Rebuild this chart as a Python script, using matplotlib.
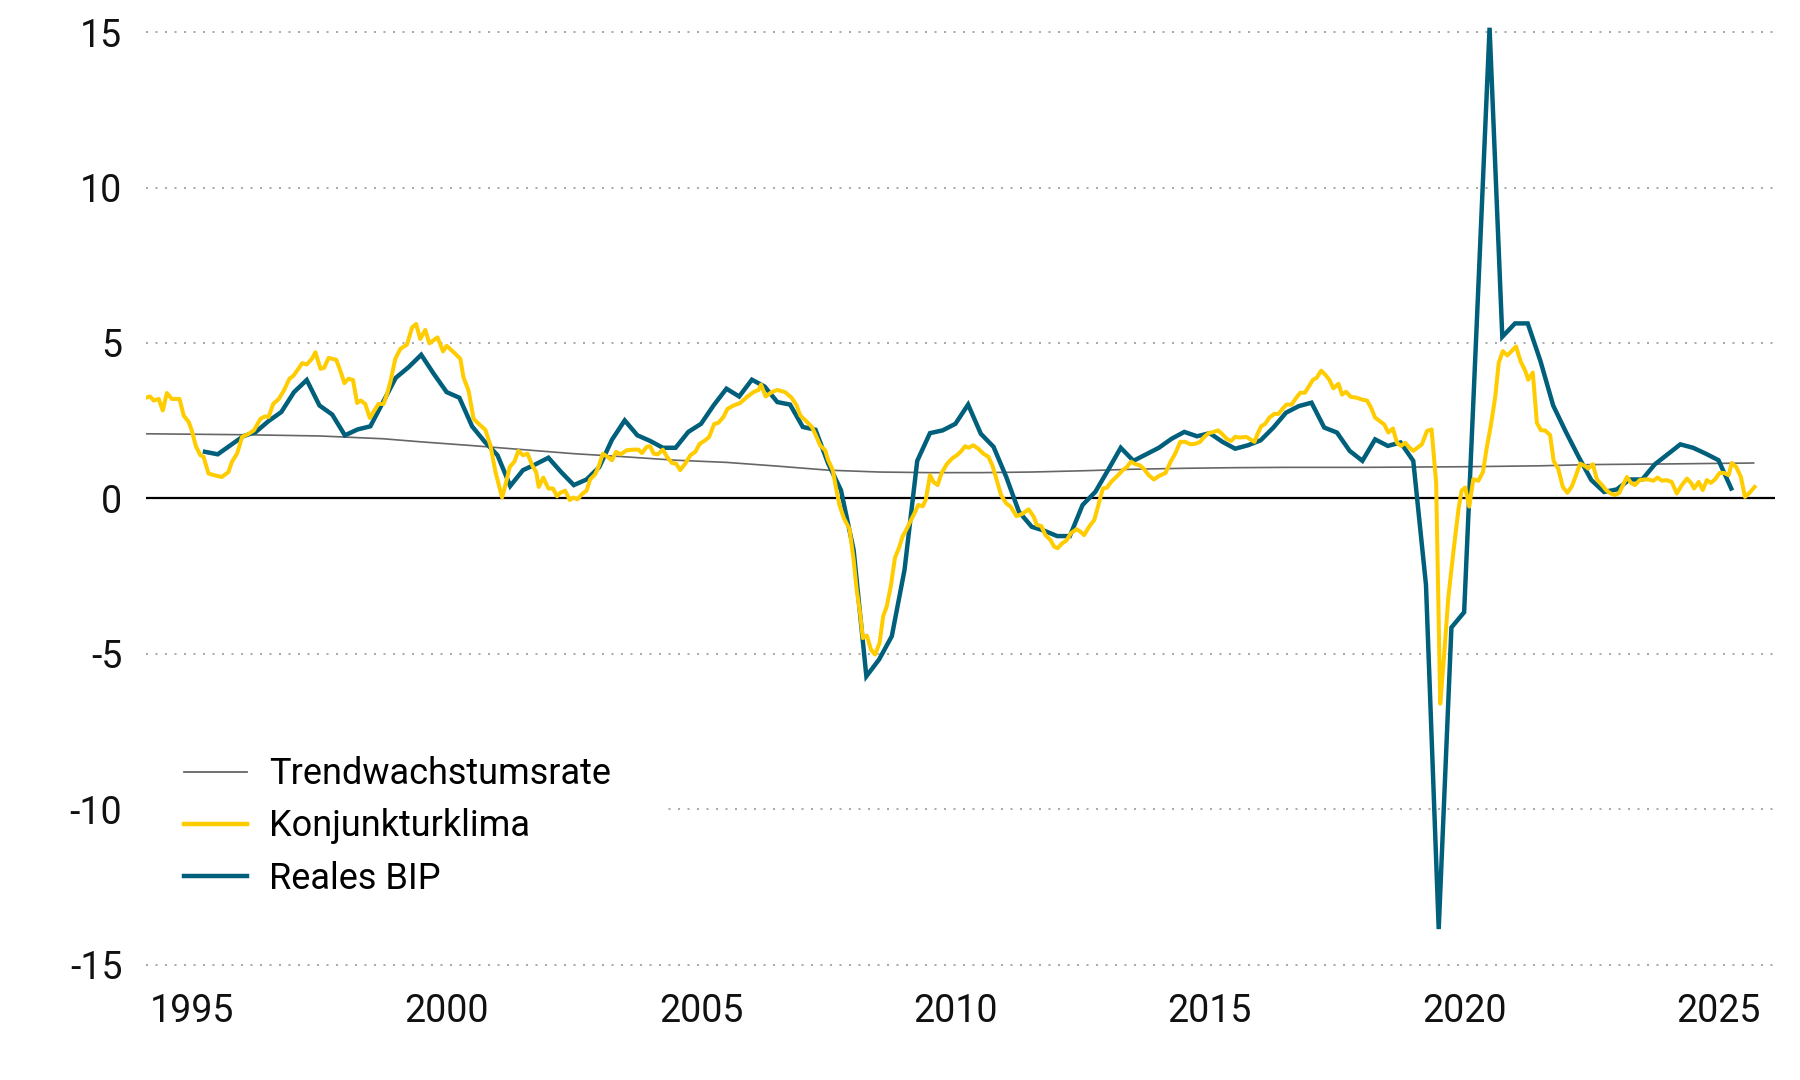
import numpy as np
import matplotlib
matplotlib.use("Agg")
import matplotlib.pyplot as plt
from matplotlib.lines import Line2D

plt.rcParams['font.family'] = ['Roboto', 'DejaVu Sans']

# ---------------------------- Daten ---------------------------- #

# Trendwachstumsrate (glatte Linie)
trend_jahr = [1994.09, 1996.0, 1997.5, 1998.75, 1999.5, 2000.5, 2001.5, 2002.5, 2003.5,
              2004.5, 2005.5, 2006.5, 2007.5, 2008.5, 2009.5, 2010.5, 2011.5, 2012.5,
              2013.5, 2014.5, 2015.5, 2016.5, 2018.0, 2020.0, 2021.5, 2022.5, 2024.0, 2025.69]
trend_wert = [2.08, 2.05, 2.01, 1.92, 1.82, 1.70, 1.57, 1.44, 1.34,
              1.23, 1.16, 1.04, 0.91, 0.85, 0.83, 0.83, 0.85, 0.89,
              0.94, 0.97, 0.99, 1.00, 1.00, 1.02, 1.05, 1.09, 1.11, 1.14]

# Reales BIP, quartalsweise ab 1995 Q2
bip_start = 1995.25
bip_wert = [1.50, 1.42, 1.71, 2.00, 2.14, 2.49, 2.78, 3.42, 3.81, 2.99, 2.70, 2.03,
            2.22, 2.32, 3.10, 3.88, 4.22, 4.62, 4.00, 3.42, 3.24, 2.32, 1.82, 1.39,
            0.40, 0.91, 1.10, 1.31, 0.85, 0.43, 0.61, 1.01, 1.89, 2.51, 2.03, 1.85,
            1.63, 1.63, 2.14, 2.40, 3.00, 3.53, 3.28, 3.82, 3.60, 3.10, 3.02, 2.30,
            2.21, 1.12, 0.27, -1.66, -5.72, -5.18, -4.43, -2.30, 1.21, 2.10, 2.19, 2.40,
            3.02, 2.08, 1.66, 0.69, -0.43, -0.91, -1.04, -1.21, -1.21, -0.21, 0.21, 0.91,
            1.63, 1.21, 1.42, 1.63, 1.92, 2.14, 2.00, 2.10, 1.82, 1.60, 1.71, 1.87,
            2.28, 2.76, 2.97, 3.08, 2.28, 2.12, 1.53, 1.21, 1.90, 1.69, 1.80, 1.21,
            -2.78, -13.85, -4.15, -3.66, 5.70, 15.14, 5.20, 5.63, 5.63, 4.42, 2.99, 2.14,
            1.34, 0.59, 0.21, 0.29, 0.61, 0.61, 1.10, 1.42, 1.74, 1.63, 1.44, 1.23,
            0.32]

# Konjunkturklima (monatlich)
klima_jahr = [
    1994.09, 1994.17, 1994.24, 1994.34, 1994.42, 1994.50, 1994.60, 1994.75, 1994.83, 1994.93,
    1994.99, 1995.07, 1995.16, 1995.22, 1995.32, 1995.45, 1995.58, 1995.71, 1995.78, 1995.88,
    1995.98, 1996.11, 1996.21, 1996.34, 1996.43, 1996.50, 1996.59, 1996.70, 1996.80, 1996.91,
    1996.99, 1997.06, 1997.16, 1997.25, 1997.35, 1997.42, 1997.52, 1997.59, 1997.68, 1997.83,
    1997.91, 1997.99, 1998.07, 1998.16, 1998.24, 1998.31, 1998.40, 1998.49, 1998.56, 1998.66,
    1998.76, 1998.83, 1998.90, 1998.99, 1999.09, 1999.22, 1999.32, 1999.40, 1999.48, 1999.58,
    1999.66, 1999.82, 1999.93, 2000.00, 2000.14, 2000.27, 2000.33, 2000.43, 2000.53, 2000.63,
    2000.76, 2000.86, 2000.96, 2001.09, 2001.17, 2001.24, 2001.33, 2001.41, 2001.50, 2001.59,
    2001.68, 2001.76, 2001.81, 2001.90, 2002.00, 2002.09, 2002.17, 2002.23, 2002.33, 2002.42,
    2002.49, 2002.57, 2002.66, 2002.75, 2002.82, 2002.92, 2002.99, 2003.07, 2003.16, 2003.25,
    2003.33, 2003.42, 2003.54, 2003.67, 2003.77, 2003.84, 2003.93, 2004.00, 2004.07, 2004.15,
    2004.25, 2004.33, 2004.43, 2004.51, 2004.59, 2004.69, 2004.79, 2004.89, 2004.97, 2005.08,
    2005.16, 2005.26, 2005.34, 2005.44, 2005.52, 2005.64, 2005.77, 2005.90, 2006.03, 2006.13,
    2006.18, 2006.27, 2006.39, 2006.50, 2006.65, 2006.78, 2006.88, 2006.95, 2007.04, 2007.18,
    2007.27, 2007.34, 2007.44, 2007.50, 2007.59, 2007.65, 2007.72, 2007.81, 2007.92, 2008.00,
    2008.06, 2008.13, 2008.18, 2008.26, 2008.34, 2008.42, 2008.51, 2008.58, 2008.65, 2008.73,
    2008.81, 2008.90, 2008.96, 2009.04, 2009.12, 2009.21, 2009.27, 2009.36, 2009.42, 2009.50,
    2009.57, 2009.65, 2009.73, 2009.83, 2009.93, 2010.03, 2010.12, 2010.19, 2010.26, 2010.35,
    2010.45, 2010.55, 2010.65, 2010.73, 2010.81, 2010.90, 2011.00, 2011.09, 2011.20, 2011.31,
    2011.44, 2011.54, 2011.60, 2011.69, 2011.77, 2011.87, 2011.94, 2012.01, 2012.10, 2012.18,
    2012.27, 2012.38, 2012.46, 2012.53, 2012.62, 2012.73, 2012.82, 2012.90, 2012.98, 2013.06,
    2013.18, 2013.29, 2013.37, 2013.45, 2013.54, 2013.62, 2013.70, 2013.80, 2013.90, 2014.00,
    2014.13, 2014.23, 2014.32, 2014.42, 2014.52, 2014.62, 2014.72, 2014.81, 2014.89, 2014.98,
    2015.08, 2015.16, 2015.24, 2015.33, 2015.42, 2015.50, 2015.60, 2015.72, 2015.81, 2015.88,
    2015.94, 2016.01, 2016.09, 2016.17, 2016.27, 2016.35, 2016.44, 2016.51, 2016.61, 2016.70,
    2016.78, 2016.87, 2016.96, 2017.03, 2017.10, 2017.19, 2017.27, 2017.35, 2017.43, 2017.53,
    2017.60, 2017.68, 2017.77, 2017.89, 2017.99, 2018.09, 2018.17, 2018.25, 2018.34, 2018.43,
    2018.51, 2018.60, 2018.68, 2018.76, 2018.84, 2018.93, 2019.00, 2019.08, 2019.17, 2019.27,
    2019.36, 2019.45, 2019.53, 2019.59, 2019.69, 2019.79, 2019.89, 2019.95, 2020.02, 2020.10,
    2020.18, 2020.28, 2020.37, 2020.45, 2020.52, 2020.61, 2020.68, 2020.76, 2020.85, 2020.94,
    2021.02, 2021.11, 2021.20, 2021.26, 2021.35, 2021.43, 2021.51, 2021.59, 2021.69, 2021.76,
    2021.85, 2021.94, 2022.03, 2022.12, 2022.20, 2022.28, 2022.38, 2022.44, 2022.53, 2022.61,
    2022.71, 2022.79, 2022.88, 2022.97, 2023.05, 2023.12, 2023.20, 2023.28, 2023.36, 2023.45,
    2023.54, 2023.62, 2023.72, 2023.80, 2023.89, 2023.98, 2024.08, 2024.18, 2024.28, 2024.38,
    2024.46, 2024.52, 2024.61, 2024.69, 2024.77, 2024.85, 2024.93, 2025.02, 2025.11, 2025.20,
    2025.26, 2025.35, 2025.44, 2025.52, 2025.61, 2025.71]
klima_wert = [
    3.24, 3.28, 3.15, 3.20, 2.83, 3.39, 3.20, 3.20, 2.67, 2.46,
    2.19, 1.68, 1.39, 1.34, 0.80, 0.74, 0.69, 0.85, 1.18, 1.44,
    1.98, 2.08, 2.19, 2.56, 2.64, 2.62, 3.04, 3.20, 3.47, 3.85,
    3.95, 4.11, 4.35, 4.31, 4.49, 4.70, 4.17, 4.20, 4.52, 4.46,
    4.11, 3.71, 3.85, 3.81, 3.07, 3.15, 3.04, 2.59, 2.78, 3.04,
    3.04, 3.37, 3.79, 4.49, 4.81, 4.95, 5.50, 5.61, 5.13, 5.42,
    4.99, 5.18, 4.73, 4.91, 4.70, 4.49, 3.90, 3.47, 2.56, 2.40,
    2.21, 1.71, 0.85, 0.03, 0.53, 1.01, 1.18, 1.53, 1.39, 1.44,
    1.07, 0.85, 0.37, 0.67, 0.32, 0.32, 0.07, 0.18, 0.25, -0.05,
    0.03, -0.03, 0.14, 0.25, 0.61, 0.78, 1.04, 1.44, 1.34, 1.23,
    1.50, 1.42, 1.55, 1.57, 1.57, 1.46, 1.66, 1.68, 1.44, 1.42,
    1.57, 1.34, 1.14, 1.12, 0.91, 1.12, 1.39, 1.50, 1.75, 1.87,
    1.98, 2.40, 2.43, 2.62, 2.88, 2.99, 3.07, 3.26, 3.42, 3.49,
    3.66, 3.28, 3.42, 3.49, 3.42, 3.24, 2.99, 2.67, 2.53, 2.30,
    1.98, 1.71, 1.55, 1.23, 0.91, 0.37, -0.21, -0.64, -0.99, -1.98,
    -2.94, -3.74, -4.49, -4.41, -4.86, -5.02, -4.65, -3.79, -3.47, -2.83,
    -1.92, -1.55, -1.23, -0.99, -0.72, -0.43, -0.21, -0.25, -0.03, 0.75,
    0.53, 0.43, 0.82, 1.10, 1.28, 1.39, 1.53, 1.68, 1.63, 1.71,
    1.60, 1.44, 1.34, 1.05, 0.60, 0.10, -0.16, -0.27, -0.57, -0.50,
    -0.35, -0.59, -0.85, -0.89, -1.18, -1.34, -1.55, -1.60, -1.44, -1.36,
    -1.12, -0.99, -1.07, -1.18, -0.93, -0.69, -0.16, 0.32, 0.35, 0.53,
    0.72, 0.91, 1.01, 1.18, 1.10, 1.07, 0.96, 0.75, 0.61, 0.72,
    0.82, 1.18, 1.44, 1.82, 1.82, 1.74, 1.76, 1.82, 1.98, 2.10,
    2.14, 2.19, 2.08, 1.92, 1.85, 1.98, 1.96, 1.98, 1.89, 1.82,
    2.08, 2.32, 2.40, 2.60, 2.72, 2.72, 2.90, 3.02, 3.02, 3.24,
    3.40, 3.40, 3.64, 3.82, 3.88, 4.11, 3.98, 3.82, 3.54, 3.69,
    3.34, 3.43, 3.27, 3.24, 3.18, 3.15, 2.92, 2.60, 2.49, 2.38,
    2.12, 2.25, 1.79, 1.69, 1.79, 1.63, 1.53, 1.63, 1.74, 2.17,
    2.22, 0.50, -6.60, -5.40, -3.17, -1.70, -0.33, 0.25, 0.35, -0.26,
    0.62, 0.57, 0.85, 1.69, 2.30, 3.25, 4.36, 4.74, 4.60, 4.75,
    4.89, 4.41, 4.11, 3.82, 4.05, 2.43, 2.19, 2.19, 2.04, 1.20,
    0.95, 0.37, 0.18, 0.40, 0.75, 1.12, 1.04, 0.96, 1.10, 0.61,
    0.43, 0.27, 0.16, 0.11, 0.18, 0.43, 0.69, 0.50, 0.43, 0.59,
    0.61, 0.61, 0.57, 0.67, 0.57, 0.59, 0.53, 0.16, 0.43, 0.64,
    0.50, 0.32, 0.53, 0.27, 0.59, 0.50, 0.61, 0.82, 0.82, 0.75,
    1.14, 1.01, 0.69, 0.05, 0.18, 0.37]

jahre_ticks = [1995, 2000, 2005, 2010, 2015, 2020, 2025]
werte_ticks = [15, 10, 5, 0, -5, -10, -15]

# ---------------------------- Farben ---------------------------- #
c_trend = "#666666"
c_klima = "#FFCC00"
c_bip = "#005F7B"

# ---------------------------- Grafik ---------------------------- #
fig = plt.figure(figsize=(18, 10.8), dpi=100)
ax = fig.add_axes([0.0811, 0.1009, 0.905, 0.8809])

bip_jahr = bip_start + 0.25 * np.arange(len(bip_wert))

for v in werte_ticks:
    if v != 0:
        ax.axhline(v, color="#9a9a9a", lw=1.2, ls=(0, (1.2, 4.5)), zorder=1)
ax.axhline(0, color="black", lw=1.6, zorder=2)

ax.plot(trend_jahr, trend_wert, color=c_trend, lw=1.2, zorder=3)
ax.plot(bip_jahr, bip_wert, color=c_bip, lw=3.2, zorder=4, solid_joinstyle="miter")
ax.plot(klima_jahr, klima_wert, color=c_klima, lw=2.9, zorder=5)

ax.set_xlim(1994.09, 2026.11)
ax.set_ylim(-15.2, 15.4)
ax.set_xticks(jahre_ticks)
ax.set_xticklabels([str(j) for j in jahre_ticks])
ax.set_yticks(werte_ticks)
ax.set_yticklabels([str(v) for v in werte_ticks])
ax.tick_params(axis="both", length=0, labelsize=27, colors="#111111")
ax.tick_params(axis="y", pad=17)
ax.tick_params(axis="x", pad=16)
for s in ax.spines.values():
    s.set_visible(False)

handles = [Line2D([], [], color=c_trend, lw=1.3),
           Line2D([], [], color=c_klima, lw=3.2),
           Line2D([], [], color=c_bip, lw=3.2)]
labels = ["Trendwachstumsrate", "Konjunkturklima", "Reales BIP"]
leg = ax.legend(handles, labels, loc="upper left", bbox_to_anchor=(0.072, 0.350),
                bbox_transform=fig.transFigure, borderaxespad=0, borderpad=1.5,
                fontsize=26, handlelength=1.75, handletextpad=0.62, labelspacing=0.45,
                frameon=True, fancybox=False)
leg.get_frame().set_facecolor("white")
leg.get_frame().set_edgecolor("none")
leg.get_frame().set_alpha(1)
leg.set_zorder(10)

fig.savefig("out.png", dpi=100, facecolor="white")
